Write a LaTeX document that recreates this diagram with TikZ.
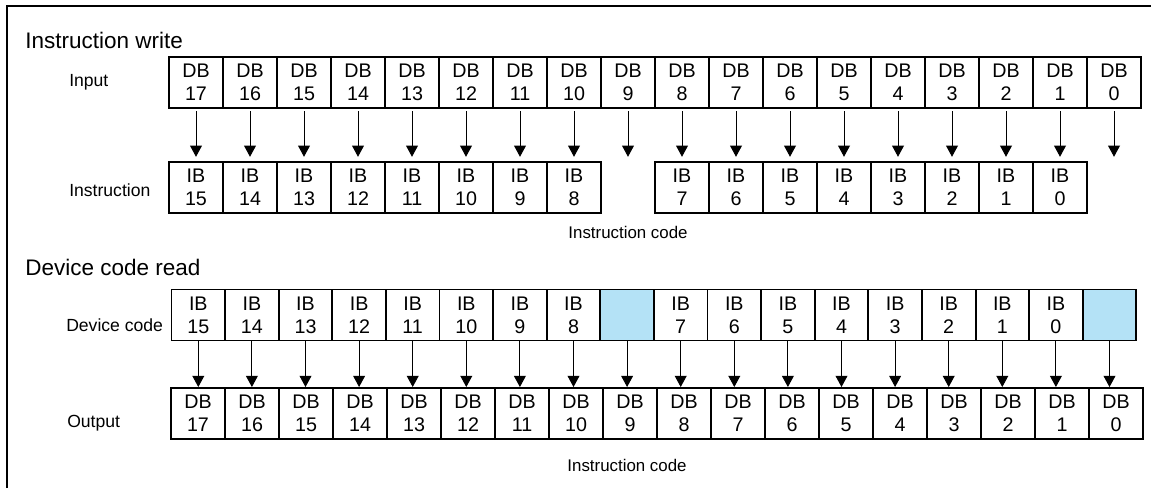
\documentclass[tikz,border=0pt]{standalone}
\usepackage{fontspec}
\setmainfont{Liberation Sans}
\usetikzlibrary{positioning,arrows.meta}
\definecolor{unusedblue}{RGB}{180,226,246}
\tikzset{bitcell/.style={rectangle,draw,line width=1.4pt,inner sep=0pt,minimum width=1.35cm,minimum height=1.275cm,align=center,font=\fontsize{14}{16.4}\selectfont},
	 blankcell/.style={bitcell,fill=unusedblue},
	 rowlabel/.style={anchor=west,inner sep=0pt,font=\fontsize{12.5}{15}\selectfont},
	 headline/.style={anchor=west,inner sep=0pt,font=\fontsize{16}{19}\selectfont},
	 codelabel/.style={inner sep=0pt,font=\fontsize{12}{14}\selectfont},
	 bitarrow/.style={line width=0.7pt,-{Triangle[length=8pt,width=8.5pt]}}
	 }

\begin{document}
\begin{tikzpicture}[x=0.025cm,y=-0.025cm] % instruction write / device code read
	\useasboundingbox (0,0) rectangle (1151,488);
	\draw[line width=1.4pt] (7,488) -- (7,6) -- (1151,6);
	% instruction write
	\node[headline] (wrtitle) at (25,40) {Instruction write};
	\node[rowlabel] (inlabel) at (69,82) {Input};
	\node[rowlabel] (inslabel) at (69,190) {Instruction};
	\foreach \c in {17,...,0} {
		\node[bitcell] (in\c) at ({196+54*(17-\c)},82.5) {DB\\\c};
	}
	\foreach \c in {17,...,10} {
		\pgfmathtruncatemacro\bitno{\c-2}
		\node[bitcell] (ins\c) at ({196+54*(17-\c)},187.5) {IB\\\bitno};
	}
	\foreach \c in {8,...,1} {
		\pgfmathtruncatemacro\bitno{\c-1}
		\node[bitcell] (ins\c) at ({196+54*(17-\c)},187.5) {IB\\\bitno};
	}
	\foreach \c in {17,...,0} {
		\draw[bitarrow,shorten <=1.5pt,shorten >=3pt] (in\c.south) -- (in\c.south |- ins17.north);
	}
	\node[codelabel] (wrcode) at (628,232) {Instruction code};
	% device code read
	\node[headline] (rdtitle) at (25,267) {Device code read};
	\node[rowlabel] (devlabel) at (66,325) {Device code};
	\node[rowlabel] (outlabel) at (67,423) {Output};
	\foreach \c in {17,...,10} {
		\pgfmathtruncatemacro\bitno{\c-2}
		\node[bitcell,minimum width=1.34cm] (dev\c) at ({198.3+53.6*(17-\c)},315) {IB\\\bitno};
	}
	\node[blankcell,minimum width=1.34cm] (dev9) at ({198.3+53.6*8},315) {};
	\foreach \c in {8,...,1} {
		\pgfmathtruncatemacro\bitno{\c-1}
		\node[bitcell,minimum width=1.34cm] (dev\c) at ({198.3+53.6*(17-\c)},315) {IB\\\bitno};
	}
	\node[blankcell,minimum width=1.34cm] (dev0) at ({198.3+53.6*17},315) {};
	\foreach \c in {17,...,0} {
		\node[bitcell] (out\c) at ({198+54*(17-\c)},413.5) {DB\\\c};
		\draw[bitarrow] (dev\c.south) -- (dev\c.south |- out\c.north);
	}
	\node[codelabel] (rdcode) at (627,465) {Instruction code};
\end{tikzpicture}
\end{document}
